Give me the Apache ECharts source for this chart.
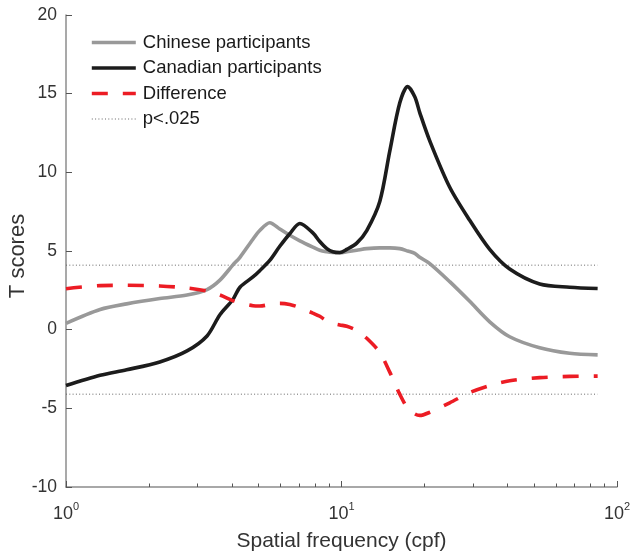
<!DOCTYPE html>
<html>
<head>
<meta charset="utf-8">
<script src="https://cdn.jsdelivr.net/npm/echarts@6/dist/echarts.min.js"></script>
<style>
html,body{margin:0;padding:0;background:#fff;}
#c{width:633px;height:552px;}
</style>
</head>
<body>
<div id="c"></div>
<script>
// Spatial frequency (cpf)
const freq = [1.00,1.33,1.66,2.19,2.75,3.25,3.62,4.03,4.28,4.77,5.05,5.49,5.97,6.49,7.06,7.87,8.34,8.85,9.30,9.86,10.45,11.36,12.35,13.77,14.97,16.27,17.39,18.45,19.23,20.91,24.71,29.20,34.51,40.78,52.40,67.32,85.06];
// T scores
const chinese = [0.4,1.28,1.64,1.98,2.2,2.55,3.15,4.1,4.6,5.75,6.3,6.8,6.4,6.0,5.65,5.25,5.05,4.95,4.9,4.88,4.95,5.05,5.15,5.2,5.2,5.15,5.0,4.85,4.6,4.2,3.05,1.8,0.5,-0.45,-1.15,-1.5,-1.6];
const canadian = [-3.55,-2.9,-2.55,-2.05,-1.35,-0.4,0.95,1.9,2.7,3.35,3.75,4.4,5.3,6.1,6.75,6.15,5.6,5.15,4.95,4.9,5.1,5.5,6.3,8.15,11.35,14.4,15.45,14.8,13.8,12.0,9.05,6.95,5.1,3.85,2.9,2.7,2.62];
const difference = [2.6,2.8,2.82,2.78,2.65,2.45,2.2,1.85,1.7,1.52,1.5,1.6,1.67,1.6,1.4,1.05,0.85,0.55,0.4,0.3,0.22,-0.05,-0.55,-1.45,-2.7,-4.1,-5.0,-5.35,-5.45,-5.25,-4.65,-4.0,-3.55,-3.25,-3.05,-2.97,-2.95];
// significance threshold
const thresholdFreq = [1, 85];
const thresholdT = [4.1, -4.1];
// axis ticks
const xMajor = [1, 10, 100];
const xMinor = [2,3,4,5,6,7,8,9,20,30,40,50,60,70,80,90];
const yTicks = [-10,-5,0,5,10,15,20];

const seriesNames = ['Chinese participants','Canadian participants','Difference','p<.025'];
const pair = (xs, ys) => xs.map((x, i) => [x, ys[i]]);

const FONT = 'Liberation Sans';
const chart = echarts.init(document.getElementById('c'), null, {renderer: 'canvas'});

const option = {
  animation: false,
  backgroundColor: '#fff',
  textStyle: {fontFamily: FONT},
  grid: {left: 66, right: 16, top: 15, bottom: 65, outerBoundsMode: 'none', containLabel: false},
  legend: {
    orient: 'vertical',
    left: 85, top: 28,
    itemWidth: 44, itemHeight: 14, itemGap: 6.5,
    data: [
      {name: seriesNames[0], lineStyle: {width: 3.6}},
      {name: seriesNames[1], lineStyle: {width: 3.6}},
      {name: seriesNames[2], lineStyle: {width: 3.6}},
      {name: seriesNames[3], lineStyle: {width: 1}}
    ],
    itemStyle: {opacity: 0},
    textStyle: {fontFamily: FONT, fontSize: 18.5, color: '#1a1a1a', padding: [0,0,0,2]}
  },
  xAxis: [{
    type: 'log', logBase: 10, min: xMajor[0], max: xMajor[xMajor.length-1],
    name: 'Spatial frequency (cpf)', nameLocation: 'middle', nameGap: 44,
    nameTextStyle: {fontFamily: FONT, fontSize: 21, color: '#333'},
    axisLine: {onZero: false, lineStyle: {color: '#8c8c8c', width: 1.5}},
    axisTick: {inside: true, length: 6, lineStyle: {color: '#555', width: 1}},
    splitLine: {show: false},
    axisLabel: {
      margin: 14,
      formatter: v => '{b|10}{s|' + Math.round(Math.log10(v)) + '}',
      rich: {
        b: {fontFamily: FONT, fontSize: 18, color: '#333', lineHeight: 22, verticalAlign: 'bottom'},
        s: {fontFamily: FONT, fontSize: 11, color: '#333', lineHeight: 22, verticalAlign: 'top', padding:[0,0,8,0]}
      }
    }
  }, {
    type: 'log', logBase: 10, min: xMajor[0], max: xMajor[xMajor.length-1],
    position: 'bottom', gridIndex: 0,
    axisLine: {show: false, onZero: false},
    axisTick: {inside: true, length: 3.5, customValues: xMinor, lineStyle: {color: '#555', width: 1}},
    axisLabel: {show: false},
    splitLine: {show: false}
  }],
  yAxis: {
    type: 'value', min: yTicks[0], max: yTicks[yTicks.length-1], interval: 5,
    name: 'T scores', nameLocation: 'middle', nameGap: 37, nameMoveOverlap: false,
    nameTextStyle: {fontFamily: FONT, fontSize: 22, color: '#333', padding: [0, 10, 0, 0]},
    axisLine: {show: true, lineStyle: {color: '#8c8c8c', width: 1.5}},
    axisTick: {show: true, inside: true, length: 6, lineStyle: {color: '#555', width: 1}},
    splitLine: {show: false},
    axisLabel: {margin: 9, fontFamily: FONT, fontSize: 17.5, color: '#333'}
  },
  series: [
    {name: seriesNames[3], type: 'line', symbol: 'none', silent: true,
     data: pair(thresholdFreq, [thresholdT[0], thresholdT[0]]),
     itemStyle: {color: '#666'},
     lineStyle: {color: '#666', width: 1, type: [1, 2.3]}},
    {name: seriesNames[3], type: 'line', symbol: 'none', silent: true,
     data: pair(thresholdFreq, [thresholdT[1], thresholdT[1]]),
     itemStyle: {color: '#666'},
     lineStyle: {color: '#666', width: 1, type: [1, 2.3]}},
    {name: seriesNames[0], type: 'line', symbol: 'none', smooth: 0.3,
     data: pair(freq, chinese),
     itemStyle: {color: '#999999'},
     lineStyle: {color: '#999999', width: 3.6}},
    {name: seriesNames[1], type: 'line', symbol: 'none', smooth: 0.3,
     data: pair(freq, canadian),
     itemStyle: {color: '#1c1c1c'},
     lineStyle: {color: '#1c1c1c', width: 3.6}},
    {name: seriesNames[2], type: 'line', symbol: 'none', smooth: 0.3,
     data: pair(freq, difference),
     itemStyle: {color: '#ec1c24'},
     lineStyle: {color: '#ec1c24', width: 3.6, type: [16, 15]}}
  ]
};
chart.setOption(option);
</script>
</body>
</html>
